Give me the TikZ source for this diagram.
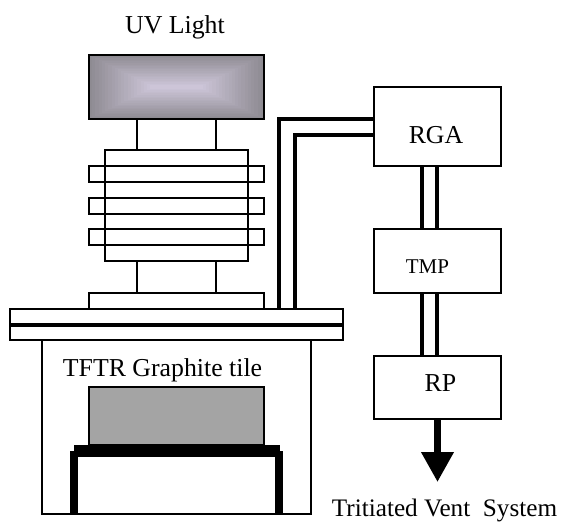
\documentclass[tikz,border=0pt]{standalone}
\usepackage{fontspec}
\setmainfont{Liberation Serif}
\usetikzlibrary{positioning,calc,arrows.meta}

\definecolor{lampedge}{HTML}{8E8B92}
\definecolor{lampmid}{HTML}{D0C8DC}
\definecolor{tilegray}{HTML}{A4A4A4}

\tikzset{
    part/.style={draw,line width=1.8pt,inner sep=0pt,outer sep=0pt},
    blackbar/.style={fill=black,inner sep=0pt,outer sep=0pt},
    label/.style={font=\fontsize{25.8}{28}\selectfont,inner sep=0pt,anchor=base},
    smalllabel/.style={font=\fontsize{21}{24}\selectfont,inner sep=0pt,anchor=base},
    ventlabel/.style={font=\fontsize{25.2}{28}\selectfont,inner sep=0pt,anchor=base},
    pipe/.style={line width=3.6pt},
}

\begin{document}
\begin{tikzpicture}[x=1pt,y=-1pt]
    \useasboundingbox (0,0) rectangle (562,522);

    % lamp column
    \node (uv_lamp) [part,minimum width=175pt,minimum height=64pt] at (176.5,87) {};
    \coordinate (lamp_mid_left) at ([xshift=-23pt]uv_lamp.center);
    \coordinate (lamp_mid_right) at ([xshift=23pt]uv_lamp.center);
    \foreach \i [evaluate=\i as \m using \i*5, evaluate=\i as \f using \i/20] in {0,...,20}
        \fill[lampmid!\m!lampedge] ($(uv_lamp.north west)!\f!(lamp_mid_left)$) rectangle ($(uv_lamp.south east)!\f!(lamp_mid_right)$);
    \draw[line width=1.8pt] (uv_lamp.north west) rectangle (uv_lamp.south east);

    \node (top_neck) [part,minimum width=79pt,minimum height=31pt,below=0pt of uv_lamp] {};
    \node (stack) [part,minimum width=143pt,minimum height=111pt,below=0pt of top_neck] {};
    \node (fin_a) [part,minimum width=175pt,minimum height=16pt,below=16pt of stack.north] {};
    \node (fin_b) [part,minimum width=175pt,minimum height=16pt,below=48pt of stack.north] {};
    \node (fin_c) [part,minimum width=175pt,minimum height=16pt,below=79pt of stack.north] {};
    \node (low_neck) [part,minimum width=79pt,minimum height=32pt,below=0pt of stack] {};
    \node (base) [part,minimum width=175pt,minimum height=16pt,below=0pt of low_neck] {};

    % flange and chamber
    \node (flange) [part,minimum width=333pt,minimum height=31pt,below=0pt of base] {};
    \draw[line width=4pt] (flange.west) -- (flange.east);
    \node (chamber) [part,minimum width=269pt,minimum height=174pt,below=0pt of flange] {};
    \node (tile) [part,fill=tilegray,minimum width=175pt,minimum height=58pt,below=47pt of chamber.north] {};
    \node (holder) [blackbar,minimum width=206pt,minimum height=12pt,below=0pt of tile] {};
    \node (leg_left) [blackbar,minimum width=8pt,minimum height=63pt] at (74,482.5) {};
    \node (leg_right) [blackbar,minimum width=8pt,minimum height=63pt] at (279,482.5) {};

    % pumps
    \node (rga) [part,minimum width=127pt,minimum height=79pt] at (437.5,126.5) {};
    \node (tmp) [part,minimum width=127pt,minimum height=64pt] at (437.5,261) {};
    \node (rp) [part,minimum width=127pt,minimum height=63pt] at (437.5,387.5) {};

    \node (uv_text) [label] at (175,33.3) {UV Light};
    \node (tile_text) [label] at (162.5,376.7) {TFTR Graphite tile};
    \node (rga_text) [label] at (436,143.3) {RGA};
    \node (tmp_text) [smalllabel] at (427.5,273.3) {TMP};
    \node (rp_text) [label] at (440.5,391.7) {RP};
    \node (vent_text) [ventlabel] at (444.5,516) {Tritiated Vent\ \ System};

    % pipes
    \coordinate (foot_outer) at (279,309);
    \coordinate (foot_inner) at (295,309);
    \coordinate (rga_outer) at (374,119);
    \coordinate (rga_inner) at (374,135);
    \coordinate (vent_tip) at (437.5,482);

    \draw[pipe] (foot_outer) |- (rga_outer);
    \draw[pipe] (foot_inner) |- (rga_inner);

    \draw[pipe] ([xshift=-15.5pt]rga.south) -- ([xshift=-15.5pt]tmp.north);
    \draw[pipe] ([xshift=-0.5pt]rga.south) -- ([xshift=-0.5pt]tmp.north);
    \draw[pipe] ([xshift=-15.5pt]tmp.south) -- ([xshift=-15.5pt]rp.north);
    \draw[pipe] ([xshift=-0.5pt]tmp.south) -- ([xshift=-0.5pt]rp.north);

    \draw[line width=7pt,-{Triangle[length=30pt,width=31pt]}] (rp.south) -- (vent_tip);
\end{tikzpicture}
\end{document}
